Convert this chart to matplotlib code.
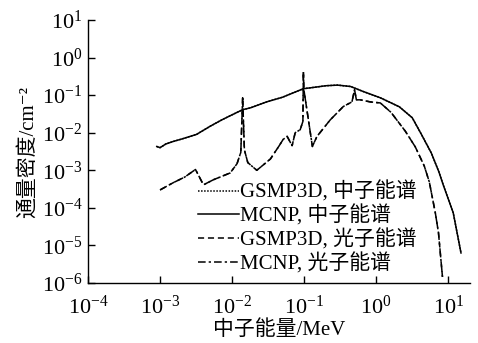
import matplotlib
matplotlib.use("Agg")
import matplotlib.pyplot as plt

plt.rcParams['font.family'] = ['Liberation Serif', 'Noto Sans CJK SC', 'DejaVu Serif']
plt.rcParams['mathtext.fontset'] = 'stix'

# Neutron spectrum (GSMP3D and MCNP overlap)
neutron_energy = [9e-4, 1.0e-3, 1.2e-3, 1.5e-3, 2e-3, 3.2e-3, 5e-3, 7.2e-3, 0.01, 0.014,
                  0.018, 0.03, 0.05, 0.097, 0.15, 0.2, 0.29, 0.44, 0.66, 1.14, 2.09,
                  3.16, 4.2, 5.8, 7.4, 8.5, 11.7, 15]
neutron_gsmp3d = [4.3e-3, 4.0e-3, 5.0e-3, 5.8e-3, 6.8e-3, 9.0e-3, 0.015, 0.022, 0.03, 0.041,
                  0.046, 0.066, 0.088, 0.148, 0.165, 0.178, 0.185, 0.17, 0.125, 0.085, 0.049,
                  0.025, 9.3e-3, 2.9e-3, 9.1e-4, 4.1e-4, 7.4e-5, 6.3e-6]
neutron_mcnp = [4.3e-3, 4.0e-3, 5.0e-3, 5.8e-3, 6.8e-3, 9.0e-3, 0.015, 0.022, 0.03, 0.041,
                0.046, 0.066, 0.088, 0.148, 0.165, 0.178, 0.185, 0.17, 0.125, 0.085, 0.049,
                0.025, 9.3e-3, 2.9e-3, 9.1e-4, 4.1e-4, 7.4e-5, 6.3e-6]

# Photon spectrum (GSMP3D and MCNP overlap)
photon_energy = [1.0e-3, 1.5e-3, 2.2e-3, 3.1e-3, 4.0e-3, 5.5e-3, 9.4e-3, 0.0117, 0.0132, 0.014,
                 0.0148, 0.0165, 0.022, 0.034, 0.045, 0.051, 0.058, 0.068, 0.075, 0.088,
                 0.096, 0.0975, 0.099, 0.13, 0.15, 0.23, 0.35, 0.46, 0.5, 0.53, 0.6, 0.83,
                 1.14, 1.6, 2.53, 3.48, 4.64, 5.45, 6.6, 7.3, 8.3]
photon_gsmp3d = [3.0e-4, 4.6e-4, 6.6e-4, 1.05e-3, 4.1e-4, 5.6e-4, 8.5e-4, 1.5e-3, 3.0e-3, 0.085,
                 3.5e-3, 1.6e-3, 1.0e-3, 2.0e-3, 4.5e-3, 6.6e-3, 8.0e-3, 4.5e-3, 0.01, 0.012,
                 0.02, 0.42, 0.14, 4.3e-3, 7.9e-3, 0.022, 0.05, 0.066, 0.14, 0.075, 0.075, 0.066,
                 0.062, 0.035, 0.011, 4.2e-3, 1.3e-3, 4.9e-4, 7.4e-5, 2.2e-5, 1.45e-6]
photon_mcnp = [3.0e-4, 4.6e-4, 6.6e-4, 1.05e-3, 4.1e-4, 5.6e-4, 8.5e-4, 1.5e-3, 3.0e-3, 0.085,
               3.5e-3, 1.6e-3, 1.0e-3, 2.0e-3, 4.5e-3, 6.6e-3, 8.0e-3, 4.5e-3, 0.01, 0.012,
               0.02, 0.42, 0.14, 4.3e-3, 7.9e-3, 0.022, 0.05, 0.066, 0.14, 0.075, 0.075, 0.066,
               0.062, 0.035, 0.011, 4.2e-3, 1.3e-3, 4.9e-4, 7.4e-5, 2.2e-5, 1.45e-6]

labels = ['GSMP3D, 中子能谱', 'MCNP, 中子能谱', 'GSMP3D, 光子能谱', 'MCNP, 光子能谱']
x_ticks = [1e-4, 1e-3, 1e-2, 1e-1, 1e0, 1e1]
y_ticks = [1e-6, 1e-5, 1e-4, 1e-3, 1e-2, 1e-1, 1e0, 1e1]

fig = plt.figure(figsize=(4.78, 3.43), dpi=100)
ax = fig.add_axes([88 / 478, 1 - 283 / 343, 382 / 478, 263 / 343])

lw = 1.1
ax.plot(neutron_energy, neutron_gsmp3d, color='black', lw=lw, linestyle=(0, (1, 1)), label=labels[0])
ax.plot(neutron_energy, neutron_mcnp, color='black', lw=lw, linestyle='-', label=labels[1])
ax.plot(photon_energy, photon_gsmp3d, color='black', lw=lw, linestyle=(0, (4, 2.5)), label=labels[2])
ax.plot(photon_energy, photon_mcnp, color='black', lw=lw, linestyle=(0, (5, 2, 1.5, 2)), label=labels[3])

ax.set_xscale('log')
ax.set_yscale('log')
ax.set_xlim(1e-4, 20)
ax.set_ylim(1e-6, 10)
ax.set_xticks(x_ticks)
ax.set_yticks(y_ticks)
ax.minorticks_off()
ax.tick_params(direction='in', length=5, width=1, labelsize=16)
ax.tick_params(axis='x', pad=9)
ax.tick_params(axis='y', pad=4)
for s in ['top', 'right']:
    ax.spines[s].set_visible(False)
for s in ['left', 'bottom']:
    ax.spines[s].set_linewidth(1)

ax.set_xlabel('中子能量/MeV', fontsize=15, labelpad=1)
ax.set_ylabel('通量密度/cm⁻²', fontsize=15, labelpad=3)

ax.legend(loc='upper left', bbox_to_anchor=(0.288, 0.385), frameon=False, fontsize=15,
          handlelength=1.95, handletextpad=0.05, labelspacing=0.12, borderpad=0,
          borderaxespad=0)

fig.savefig('out.png', dpi=100)
